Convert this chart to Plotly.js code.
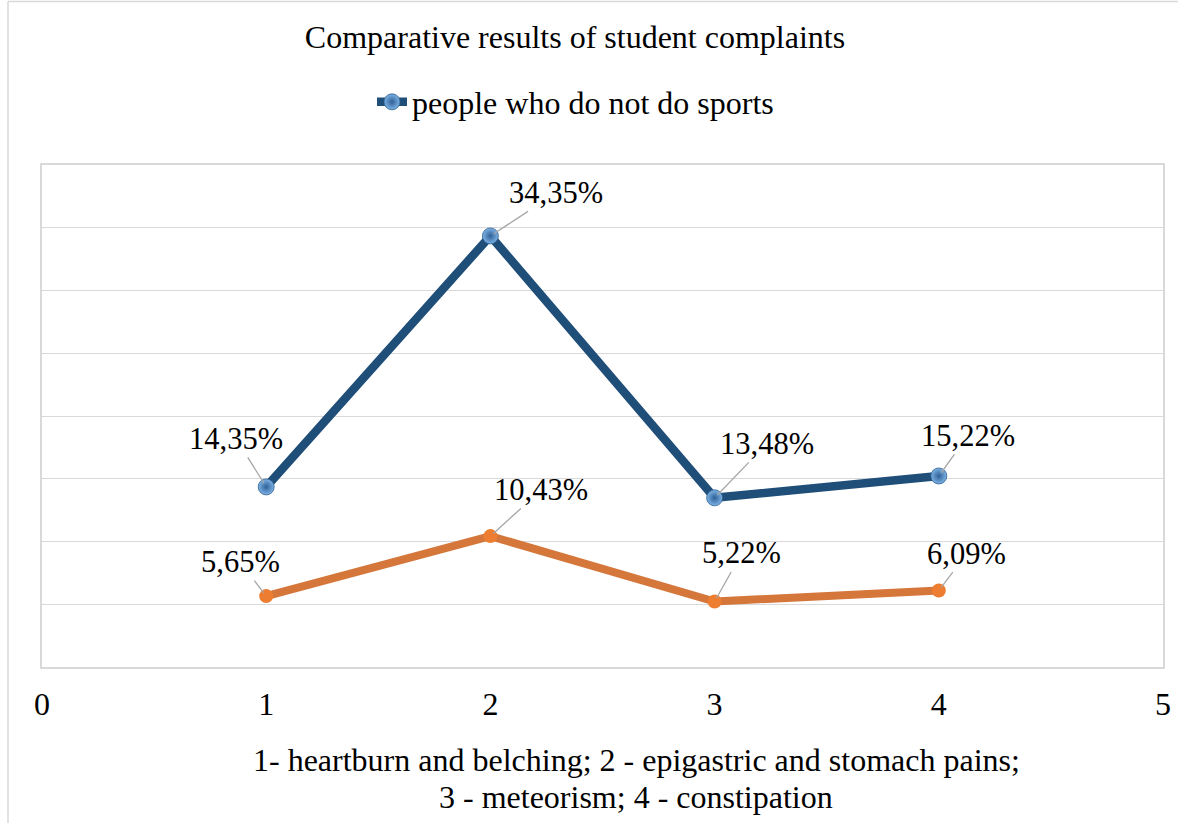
<!DOCTYPE html>
<html>
<head>
<meta charset="utf-8">
<script src="https://cdn.plot.ly/plotly-3.0.1.min.js"></script>
<style>
html,body{margin:0;padding:0;background:#fff;overflow:hidden;}
#chart{width:1178px;height:823px;}
</style>
</head>
<body>
<div id="chart"></div>
<script>
const categories = [1, 2, 3, 4];
const noSports = [14.35, 34.35, 13.48, 15.22];
const sports = [5.65, 10.43, 5.22, 6.09];
const noSportsLabels = ["14,35%", "34,35%", "13,48%", "15,22%"];
const sportsLabels = ["5,65%", "10,43%", "5,22%", "6,09%"];
const xTickVals = [0, 1, 2, 3, 4, 5];
const titleText = "Comparative results of student complaints";
const legendName = "people who do not do sports";
const xTitleLines = ["1- heartburn and belching; 2 - epigastric and stomach pains;", "3 - meteorism; 4 - constipation"];

const FONT = '"Liberation Serif", "Times New Roman", Times, serif';
const FS = 32;
const LFS = 30.5;

// label offsets (px) of text centre relative to the point
const blueOff = [[-30, -48], [66, -43], [52, -54], [29, -40]];
const orangeOff = [[-26, -34], [51, -46], [27, -48], [28, -37]];

const annotations = [];
categories.forEach((c, i) => {
  annotations.push({x: c, y: noSports[i], xref: 'x', yref: 'y', text: noSportsLabels[i],
    showarrow: true, arrowhead: 0, arrowwidth: 1.3, arrowcolor: '#a6a6a6',
    ax: blueOff[i][0], ay: blueOff[i][1], standoff: 4,
    font: {family: FONT, size: LFS, color: '#000'}});
  annotations.push({x: c, y: sports[i], xref: 'x', yref: 'y', text: sportsLabels[i],
    showarrow: true, arrowhead: 0, arrowwidth: 1.3, arrowcolor: '#a6a6a6',
    ax: orangeOff[i][0], ay: orangeOff[i][1], standoff: 4,
    font: {family: FONT, size: LFS, color: '#000'}});
});
annotations.push({xref: 'paper', yref: 'paper', x: (636 - 42) / 1121, y: -(760 - 667) / 502,
  xanchor: 'center', yanchor: 'middle', showarrow: false, text: xTitleLines[0],
  font: {family: FONT, size: FS, color: '#000'}});
annotations.push({xref: 'paper', yref: 'paper', x: (636 - 42) / 1121, y: -(797 - 667) / 502,
  xanchor: 'center', yanchor: 'middle', showarrow: false, text: xTitleLines[1],
  font: {family: FONT, size: FS, color: '#000'}});

const traces = [
  {x: categories, y: noSports, type: 'scatter', mode: 'lines+markers', name: legendName,
   line: {color: '#1f4e79', width: 8.5},
   marker: {size: 16, color: '#7db3e6', line: {color: '#2e5f8f', width: 0.8},
            gradient: {type: 'radial', color: '#2f6096'}},
   hoverinfo: 'skip'},
  {x: categories, y: sports, type: 'scatter', mode: 'lines+markers', name: 'people who do sports',
   showlegend: false,
   line: {color: '#d5763a', width: 8},
   marker: {size: 14, color: '#ed7d31'},
   hoverinfo: 'skip'}
];

const layout = {
  width: 1178, height: 823,
  margin: {l: 42, r: 15, t: 165, b: 156},
  paper_bgcolor: '#fff', plot_bgcolor: '#fff',
  font: {family: FONT, size: FS, color: '#000'},
  title: {text: titleText, x: 575 / 1178, xanchor: 'center', y: 1 - 37 / 823, yanchor: 'middle',
          font: {family: FONT, size: FS, color: '#000'}},
  showlegend: true,
  legend: {orientation: 'h', x: 372 / 1178, xref: 'container', xanchor: 'left',
           y: 1 - 102 / 823, yref: 'container', yanchor: 'middle',
           font: {family: FONT, size: FS, color: '#000'}, bgcolor: 'rgba(0,0,0,0)'},
  xaxis: {range: [0, 5], tickvals: xTickVals, ticktext: xTickVals.map(String), showgrid: false,
          zeroline: false, showline: true, mirror: true, linecolor: '#d9d9d9', linewidth: 2,
          ticks: '', ticklen: 0, ticklabelstandoff: 8,
          tickfont: {family: FONT, size: FS, color: '#000'}},
  yaxis: {range: [0, 40], dtick: 5, showticklabels: false, showgrid: true, gridcolor: '#d9d9d9',
          gridwidth: 1, zeroline: false, showline: true, mirror: true, linecolor: '#d9d9d9', linewidth: 2,
          ticks: ''},
  annotations: annotations,
  shapes: [
    {type: 'line', xref: 'paper', yref: 'paper', x0: (8 - 42) / 1121, x1: (8 - 42) / 1121,
     y0: -(830 - 667) / 502, y1: (667 - 1.5) / 502, line: {color: '#d9d9d9', width: 1.5}},
    {type: 'line', xref: 'paper', yref: 'paper', x0: (8 - 42) / 1121, x1: (1190 - 42) / 1121,
     y0: (667 - 1.5) / 502, y1: (667 - 1.5) / 502, line: {color: '#d9d9d9', width: 1.5}}
  ]
};

Plotly.newPlot('chart', traces, layout, {displayModeBar: false, staticPlot: true});
</script>
</body>
</html>
